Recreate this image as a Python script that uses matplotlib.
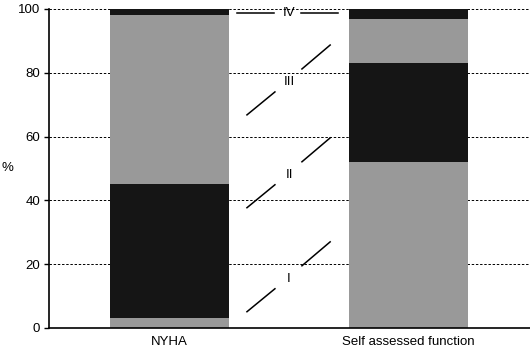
import matplotlib
matplotlib.use("Agg")
import matplotlib.pyplot as plt
import numpy as np

plt.rcParams['font.family'] = ['Liberation Sans', 'DejaVu Sans']

categories = ['NYHA', 'Self assessed function']
classes = ['I', 'II', 'III', 'IV']
# percentage of patients in each class (bottom to top)
nyha = [3, 42, 53, 2]
self_assessed = [52, 31, 14, 3]
label_y = [15.4, 48, 77.1, 98.7]

colors = ['#999999', '#151515', '#999999', '#151515']

fig = plt.figure(figsize=(5.3, 3.48), dpi=100)
ax = fig.add_axes([0.0925, 0.0575, 0.9075, 0.9167])

x = np.arange(len(categories))
vals = np.array([nyha, self_assessed]).T
bottom = np.zeros(len(categories))
for i, row in enumerate(vals):
    ax.bar(x, row, bottom=bottom, width=0.5, color=colors[i], linewidth=0, zorder=2)
    bottom += row

# class labels in the gap between bars, with broken connector lines
mid = 0.5
for name, yl in zip(classes, label_y):
    ax.text(mid, yl, name, ha='center', va='center', fontsize=9.5, zorder=3)
    if name == 'IV':
        ax.plot([mid - 0.218, mid - 0.063], [yl, yl], color='black', lw=1.1, zorder=3)
        ax.plot([mid + 0.05, mid + 0.205], [yl, yl], color='black', lw=1.1, zorder=3)
    else:
        ax.plot([mid - 0.176, mid - 0.059], [yl - 10.3, yl - 3.1], color='black', lw=1.1, zorder=3)
        ax.plot([mid + 0.054, mid + 0.172], [yl + 4.1, yl + 11.6], color='black', lw=1.1, zorder=3)

ax.set_xlim(-0.504, 1.508)
ax.set_ylim(0, 100)
ax.set_yticks([0, 20, 40, 60, 80, 100])
ax.set_xticks(x)
ax.set_xticklabels(categories, fontsize=9.5)
ax.tick_params(axis='x', length=0, pad=6)
ax.tick_params(axis='y', length=3.5, width=1, labelsize=9.5, pad=3)
for yv in [20, 40, 60, 80, 100]:
    ax.axhline(yv, color='black', lw=0.7, ls=(0, (2.5, 1.8)), zorder=1)

ax.set_ylabel('%', rotation=0, fontsize=9.5, va='center', ha='center')
ax.yaxis.set_label_coords(-0.087, 0.5)
ax.spines['top'].set_visible(False)
ax.spines['right'].set_visible(False)
ax.spines['left'].set_linewidth(1.2)
ax.spines['bottom'].set_linewidth(1.2)

fig.savefig('out.png', dpi=100)
